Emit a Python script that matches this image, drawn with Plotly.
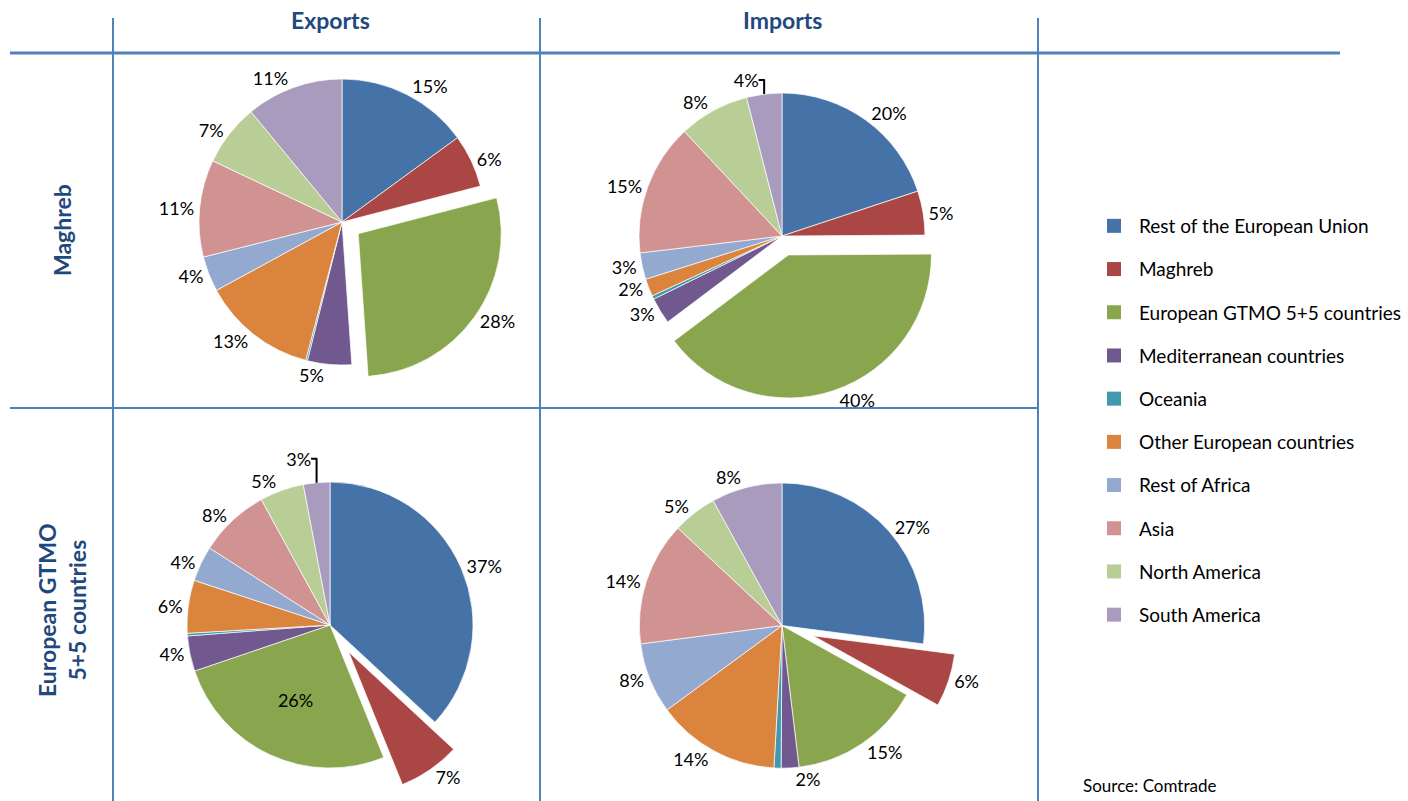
import plotly.graph_objects as go

W, H = 1408, 801

# categories (clockwise from 12 o'clock) and colours
regions = ['Rest of the European Union', 'Maghreb', 'European GTMO 5+5 countries',
           'Mediterranean countries', 'Oceania', 'Other European countries',
           'Rest of Africa', 'Asia', 'North America', 'South America']
colors = ['#4572A7', '#AA4643', '#89A54E', '#71588F', '#4198AF',
          '#DB843D', '#93A9CF', '#D19392', '#B9CD96', '#A99BBD']

# shares in %
maghreb_exports = [15, 6, 28, 5, 0.2, 13, 4, 11, 7, 11]
maghreb_imports = [20, 5, 40, 3, 0.4, 2, 3, 15, 8, 4]
gtmo_exports = [37, 7, 26, 4, 0.3, 6, 4, 8, 5, 3]
gtmo_imports = [27, 6, 15, 2, 0.8, 14, 8, 14, 5, 8]

col_titles = ['Exports', 'Imports']
row_titles = ['Maghreb', 'European GTMO<br>5+5 countries']

FONT = 'Lato, Calibri, sans-serif'
HEAD = '#1F497D'
GRID = '#4F81BD'


def px(x):
    return x / W


def py(y):
    return 1 - y / H


def pie_domain(cx, cy, r, pull):
    # pixel box -> paper domain (plotly shrinks radius by the max pull)
    h = r * (1 + pull)
    x0, x1 = max(0, px(cx - h)), min(1, px(cx + h))
    y0, y1 = max(0, py(cy + h)), min(1, py(cy - h))
    return dict(x=[x0, x1], y=[y0, y1])


def labels_for(vals):
    return ['' if v < 1 else f'{v:.0f}%' for v in vals]


fig = go.Figure()

panels = [
    (maghreb_exports, 2, 0.14, (342, 222), None),
    (maghreb_imports, 2, 0.14, (782, 236), None),
    (gtmo_exports, 1, 0.23, (330, 625), 2),
    (gtmo_imports, 1, 0.23, (782, 626), None),
]

for vals, pulled, pull, (cx, cy), inside_idx in panels:
    pulls = [pull if i == pulled else 0 for i in range(len(vals))]
    pos = ['inside' if i == inside_idx else 'outside' for i in range(len(vals))]
    fig.add_trace(go.Pie(
        labels=regions, values=vals, text=labels_for(vals),
        textinfo='text', textposition=pos,
        insidetextorientation='horizontal',
        sort=False, direction='clockwise', rotation=0,
        pull=pulls,
        marker=dict(colors=colors, line=dict(color='white', width=0.7)),
        textfont=dict(family=FONT, size=18, color='black'),
        domain=pie_domain(cx, cy, 143, pull),
        showlegend=False, hoverinfo='label+percent',
        automargin=False,
    ))

# legend entries (one group per region so the spacing can be set)
for name, c in zip(regions, colors):
    fig.add_trace(go.Scatter(
        x=[None], y=[None], mode='markers', name=name, legendgroup=name,
        marker=dict(symbol='square', size=14, color=c),
    ))

# grid of the table
lines = [
    (10, 53, 1340, 53, 4, '#A7BFDE'),
    (10, 53, 1340, 53, 2, GRID),
    (10, 408, 1038, 408, 2, GRID),
    (113, 18, 113, 801, 2, GRID),
    (540, 18, 540, 801, 2, GRID),
    (1038, 18, 1038, 801, 2, GRID),
]
for x0, y0, x1, y1, w, c in lines:
    fig.add_shape(type='line', xref='paper', yref='paper',
                  x0=px(x0), x1=px(x1), y0=py(y0), y1=py(y1),
                  line=dict(color=c, width=w))

for title, x in zip(col_titles, [330, 782]):
    fig.add_annotation(text=f'<b>{title}</b>', x=px(x), y=py(20),
                       xref='paper', yref='paper', showarrow=False,
                       xanchor='center', yanchor='middle',
                       font=dict(family=FONT, size=23, color=HEAD))

for title, y in zip(row_titles, [230, 610]):
    fig.add_annotation(text=f'<b>{title}</b>', x=px(62), y=py(y),
                       xref='paper', yref='paper', showarrow=False, textangle=-90,
                       xanchor='center', yanchor='middle',
                       font=dict(family=FONT, size=23, color=HEAD))

fig.add_annotation(text='Source: Comtrade', x=px(1081), y=py(785),
                   xref='paper', yref='paper', showarrow=False,
                   xanchor='left', yanchor='middle',
                   font=dict(family=FONT, size=17, color='black'))

fig.update_layout(
    width=W, height=H,
    margin=dict(l=0, r=0, t=0, b=0, autoexpand=False),
    paper_bgcolor='white', plot_bgcolor='white',
    xaxis=dict(visible=False), yaxis=dict(visible=False),
    legend=dict(x=px(1089), y=py(207), xanchor='left', yanchor='top',
                font=dict(family=FONT, size=19, color='black'),
                tracegroupgap=15.5, itemwidth=40, traceorder='grouped'),
    font=dict(family=FONT),
)

fig.write_html(
    'out.html',
    config={'displayModeBar': False},
    post_script="document.body.style.margin='0px';"
                "document.body.style.overflow='hidden';",
)
